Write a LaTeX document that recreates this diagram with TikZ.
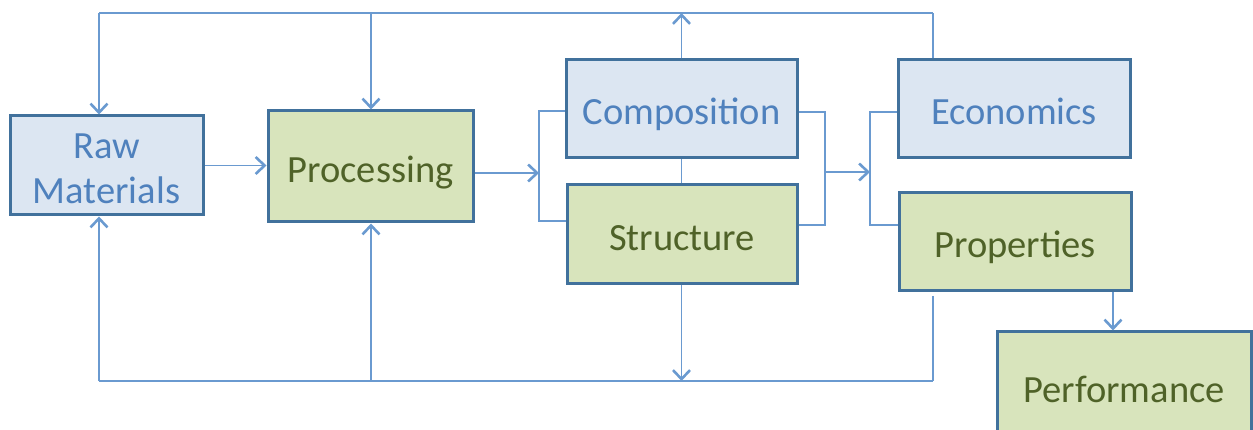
\documentclass[tikz,border=0pt]{standalone}
\usepackage{fontspec}
\setmainfont{Carlito}
\usetikzlibrary{arrows.meta}
\definecolor{bord}{HTML}{41719C}
\definecolor{lin}{HTML}{6A9AD0}
\definecolor{bfill}{HTML}{DCE6F2}
\definecolor{gfill}{HTML}{D8E4BC}
\definecolor{btext}{HTML}{4F81BD}
\definecolor{gtext}{HTML}{4F6228}
\begin{document}
\begin{tikzpicture}[x=1pt,y=-1pt,
 box/.style={draw=bord,line width=3pt,rectangle,inner sep=0pt,font=\fontsize{38.5}{45}\selectfont,align=center,text height=32pt,text depth=0pt},
 bluebox/.style={box,fill=bfill,text=btext},
 greenbox/.style={box,fill=gfill,text=gtext},
 conn/.style={draw=lin,line width=1.6pt},
 arr/.style={conn,-{Straight Barb[length=9pt,width=17pt,line width=2.6pt]}}]
\useasboundingbox (0,0) rectangle (1253,430);
\clip (0,0) rectangle (1253,430);
\node[bluebox,minimum width=193pt,minimum height=99pt,text height=77pt] (raw) at (106.5,165.5) {Raw\\Materials};
\node[greenbox,minimum width=205pt,minimum height=111pt] (proc) at (370.5,166.5) {Processing};
\node[bluebox,minimum width=231pt,minimum height=98pt] (comp) at (681.5,109) {Composition};
\node[greenbox,minimum width=230pt,minimum height=99pt] (struc) at (682,234.5) {Structure};
\node[bluebox,minimum width=232pt,minimum height=98pt] (econ) at (1014,109) {Economics};
\node[greenbox,minimum width=232pt,minimum height=98pt] (prop) at (1015,242) {Properties};
\node[greenbox,minimum width=254pt,minimum height=108pt] (perf) at (1124,386) {Performance};
% top feedback line
\coordinate (t1) at (99,13);
\coordinate (t2) at (371,13);
\coordinate (t3) at (681.5,13);
\coordinate (t4) at (933,13);
\draw[conn] (t1) -- (t4);
\draw[arr] (t1) -- (t1 |- raw.north);
\draw[arr] (t2) -- (t2 |- proc.north);
\draw[arr] (comp.north) -- (t3);
\draw[conn] (t4 |- econ.north) -- (t4);
% bottom feedback line
\coordinate (b1) at (99,381);
\coordinate (b2) at (371,381);
\coordinate (b3) at (681.5,381);
\coordinate (b4) at (933,381);
\coordinate (b4s) at (933,296);
\draw[conn] (b1) -- (b4);
\draw[arr] (b1) -- (b1 |- raw.south);
\draw[arr] (b2) -- (b2 |- proc.south);
\draw[arr] (b3 |- struc.south) -- (b3);
\draw[conn] (b4s) -- (b4);
% main flow
\draw[arr] (raw.east) -- (raw.east -| proc.west);
\coordinate (lb) at (539,173);
\coordinate (lbt) at (539,111);
\coordinate (lbb) at (539,221);
\draw[arr] (lb -| proc.east) -- (lb);
\draw[conn] (lbt -| comp.west) -- (lbt) -- (lbb) -- (lbb -| struc.west);
\draw[conn] (comp.south) -- (comp.south |- struc.north);
\coordinate (rbt) at (825,112);
\coordinate (rbb) at (825,225);
\coordinate (rbm) at (825,172);
\coordinate (qm) at (870,172);
\coordinate (qt) at (870,112);
\coordinate (qb) at (870,225);
\draw[conn] (rbt -| comp.east) -- (rbt) -- (rbb) -- (rbb -| struc.east);
\draw[arr] (rbm) -- (qm);
\draw[conn] (qt -| econ.west) -- (qt) -- (qb) -- (qb -| prop.west);
\coordinate (pp) at (1113,0);
\draw[arr] (pp |- prop.south) -- (pp |- perf.north);
\end{tikzpicture}
\end{document}
